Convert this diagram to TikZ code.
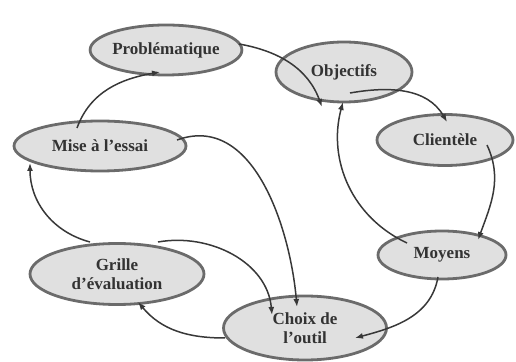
\documentclass[tikz,border=0pt]{standalone}
\usepackage{fontspec}
\setmainfont{Liberation Serif}
\usepackage{tikz}
\usetikzlibrary{arrows.meta,shapes.geometric}

\begin{document}
\begin{tikzpicture}[
  x=1pt, y=1pt,
  bulle/.style={ellipse, draw=black!58, line width=2.8pt, fill=black!12, inner sep=0pt,
    align=center, text=black!80, font=\bfseries\fontsize{17}{19}\selectfont},
  arr/.style={-{Latex[length=8pt,width=6pt]}, line width=1.5pt, draw=black!78}
]
  \useasboundingbox (0,0) rectangle (516,361);

  \node[bulle, minimum width=144, minimum height=50] (prob) at (166,311) {Probl\'ematique};
  \node[bulle, minimum width=136, minimum height=60] (obj) at (344,289) {Objectifs};
  \node[bulle, minimum width=136, minimum height=51] (cli) at (445,221) {Client\`ele};
  \node[bulle, minimum width=172, minimum height=50] (mise) at (100,215) {Mise \`a l'essai};
  \node[bulle, minimum width=174, minimum height=61] (grille) at (117,87) {Grille\\d'\'evaluation};
  \node[bulle, minimum width=128, minimum height=48] (moy) at (442,106) {Moyens};
  \node[bulle, minimum width=163, minimum height=64] (choix) at (305,33) {Choix de\\l'outil};

  \coordinate (objin) at ([shift={(-22,-35)}]obj.center);

  \draw[arr] ([shift={(73,6)}]prob.center) to[out=-10, in=110] (objin);
  \draw[arr] ([shift={(6,-21)}]obj.center) to[out=10, in=120] ([shift={(2,18)}]cli.center);
  \draw[arr] ([shift={(42,-5)}]cli.center) to[out=-65, in=70] ([shift={(36,15)}]moy.center);
  \draw[arr] ([shift={(-35,12)}]moy.center) to[out=155, in=-105] ([shift={(-1,-30)}]obj.center);
  \draw[arr] ([shift={(-4,-22)}]moy.center) to[out=-100, in=15] ([shift={(50,-10)}]choix.center);
  \draw[arr] ([shift={(-80,-10)}]choix.center) to[out=180, in=-50] ([shift={(21,-28)}]grille.center);
  \draw[arr] ([shift={(41,32)}]grille.center) to[out=10, in=95] ([shift={(-33,13)}]choix.center);
  \draw[arr] ([shift={(77,6)}]mise.center) to[out=20, in=95] ([shift={(-8,21)}]choix.center);
  \draw[arr] ([shift={(-27,32)}]grille.center) to[out=165, in=-90] ([shift={(-70,-17)}]mise.center);
  \draw[arr] ([shift={(-23,18)}]mise.center) to[out=70, in=190] ([shift={(-6,-22)}]prob.center);
\end{tikzpicture}
\end{document}
